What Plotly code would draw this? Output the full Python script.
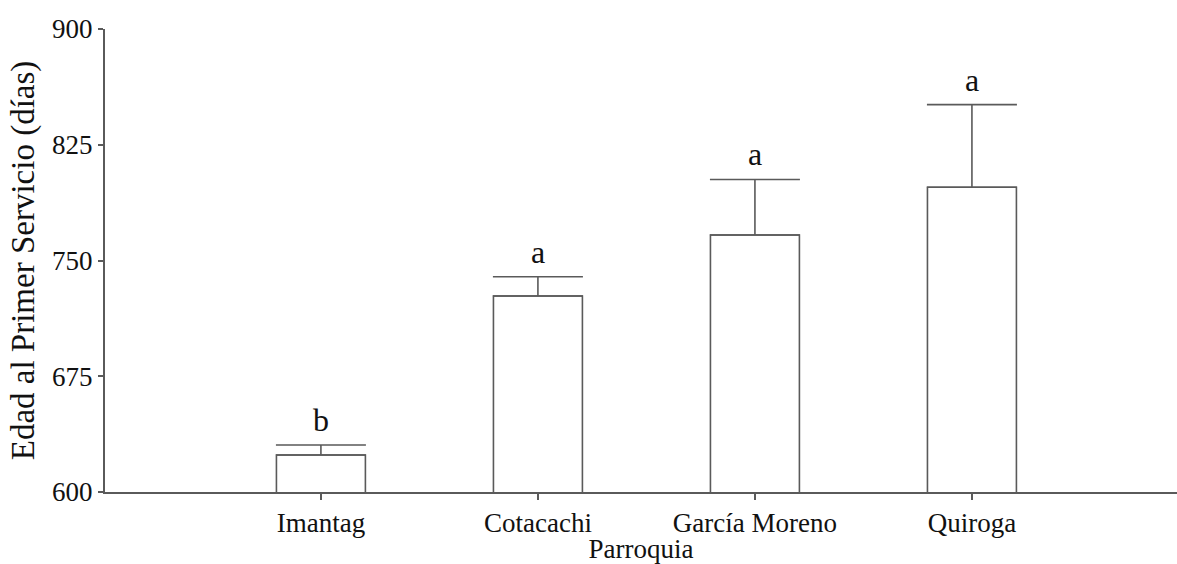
import plotly.graph_objects as go

# Mean age at first service per parish, with upper standard error
categories = ["Imantag", "Cotacachi", "García Moreno", "Quiroga"]
means = [624, 727, 766.5, 797.5]
errors = [6.5, 12.5, 36, 53.5]
letters = ["b", "a", "a", "a"]

y_ticks = [600, 675, 750, 825, 900]

line_col = "#5a5a5a"
serif = "Liberation Serif, Times New Roman, serif"

fig = go.Figure()
fig.add_trace(go.Bar(
    x=categories,
    y=means,
    width=0.41,
    marker=dict(color="white", line=dict(color=line_col, width=1.6)),
    error_y=dict(
        type="data",
        symmetric=False,
        array=errors,
        arrayminus=[0] * len(errors),
        color=line_col,
        thickness=1.6,
        width=45,
    ),
    showlegend=False,
))

# Significance letters above each error bar
for cat, m, e, lab in zip(categories, means, errors, letters):
    fig.add_annotation(
        x=cat, y=m + e, text=lab, showarrow=False,
        yanchor="middle", yshift=25,
        font=dict(family=serif, size=32, color="#111111"),
    )

fig.update_layout(
    width=1177, height=564,
    margin=dict(l=105, r=0, t=29, b=72),
    plot_bgcolor="white",
    paper_bgcolor="white",
    font=dict(family=serif, color="#111111"),
)

fig.update_xaxes(
    type="category",
    range=[-0.995, 3.945],
    showline=True, linecolor=line_col, linewidth=2,
    ticks="outside", ticklen=6, tickcolor=line_col, tickwidth=1.5,
    tickfont=dict(family=serif, size=27, color="#111111"),
    title=dict(text="Parroquia", font=dict(family=serif, size=27, color="#111111"), standoff=3),
    showgrid=False, zeroline=False,
)

fig.update_yaxes(
    range=[600, 900],
    tickvals=y_ticks,
    ticktext=[str(v) for v in y_ticks],
    showline=True, linecolor=line_col, linewidth=2,
    ticks="outside", ticklen=5, tickcolor=line_col, tickwidth=1.5,
    tickfont=dict(family=serif, size=27, color="#111111"),
    title=dict(text="Edad al Primer Servicio (días)", font=dict(family=serif, size=33, color="#111111"), standoff=8),
    showgrid=False, zeroline=False,
)

fig.write_html("out.html")
